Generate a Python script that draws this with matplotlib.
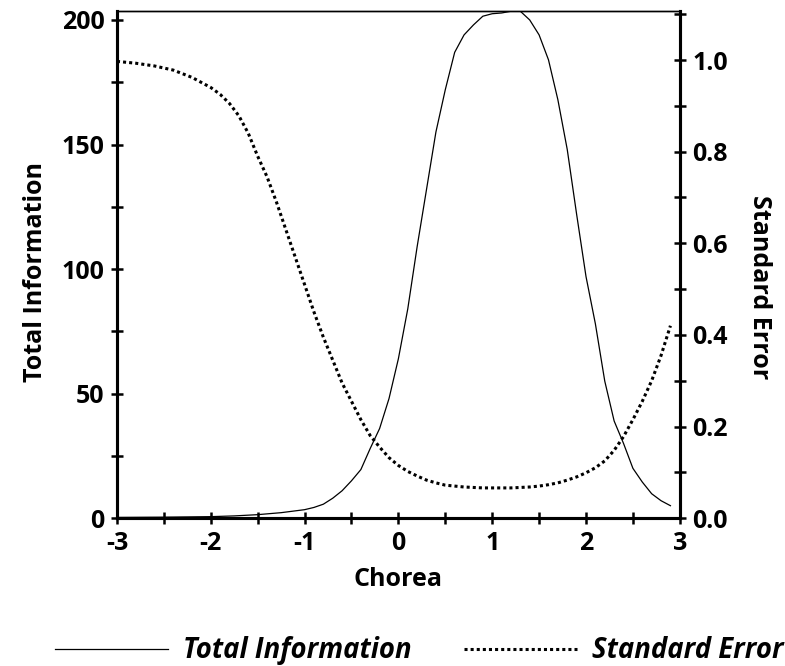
import matplotlib.pyplot as plt
from matplotlib.ticker import MultipleLocator

plt.rcParams['font.family'] = ['Open Sans', 'DejaVu Sans']
plt.rcParams['axes.unicode_minus'] = False

# theta grid for total information
info_x = [-3.0, -2.75, -2.5, -2.25, -2.0, -1.75, -1.5, -1.25, -1.0, -0.9, -0.8,
          -0.7, -0.6, -0.5, -0.4, -0.3, -0.2, -0.1, 0.0, 0.1, 0.2, 0.3, 0.4,
          0.5, 0.6, 0.7, 0.8, 0.9, 1.0, 1.1, 1.2, 1.3, 1.4, 1.5, 1.6, 1.7,
          1.8, 1.9, 2.0, 2.1, 2.2, 2.3, 2.4, 2.5, 2.6, 2.7, 2.8, 2.9]
info_y = [0.3, 0.35, 0.4, 0.5, 0.6, 0.9, 1.4, 2.2, 3.4, 4.3, 5.6,
          8.0, 11.0, 15.0, 19.5, 28.0, 36.0, 48.0, 64.0, 84.0, 109.0, 132.0, 155.0,
          172.0, 187.0, 194.0, 198.0, 201.5, 202.5, 202.8, 203.5, 203.5, 200.0, 194.0, 184.0, 168.0,
          148.0, 122.0, 97.0, 78.0, 55.0, 39.0, 30.0, 20.0, 14.5, 9.8, 7.0, 5.0]

# standard error
se_x = [-3.0, -2.8, -2.6, -2.4, -2.2, -2.0, -1.9, -1.8, -1.7, -1.6, -1.5, -1.4,
        -1.3, -1.2, -1.1, -1.0, -0.9, -0.8, -0.7, -0.6, -0.5, -0.4, -0.3, -0.2,
        -0.1, 0.0, 0.1, 0.2, 0.3, 0.4, 0.5, 0.6, 0.7, 0.8, 0.9, 1.0, 1.1, 1.2,
        1.3, 1.4, 1.5, 1.6, 1.7, 1.8, 1.9, 2.0, 2.1, 2.2, 2.3, 2.4, 2.5, 2.6,
        2.7, 2.8, 2.9]
se_y = [0.997, 0.993, 0.987, 0.978, 0.962, 0.94, 0.925, 0.905, 0.878, 0.84, 0.79, 0.745,
        0.69, 0.63, 0.57, 0.51, 0.45, 0.395, 0.345, 0.295, 0.255, 0.215, 0.18, 0.155,
        0.132, 0.115, 0.102, 0.092, 0.083, 0.077, 0.072, 0.07, 0.068, 0.067, 0.066, 0.066, 0.066, 0.066,
        0.067, 0.068, 0.07, 0.073, 0.077, 0.083, 0.09, 0.099, 0.11, 0.125, 0.148, 0.178, 0.215, 0.255,
        0.3, 0.355, 0.42]

fig = plt.figure(figsize=(7.85, 6.66), dpi=100)
ax = fig.add_axes([0.149, 0.222, 0.717, 0.7615])
ax2 = ax.twinx()

l1, = ax.plot(info_x, info_y, color='black', lw=0.9, label='Total Information')
l2, = ax2.plot(se_x, se_y, color='black', lw=2.2, linestyle=(0, (1, 1)),
               label='Standard Error')

ax.set_xlim(-3, 3)
ax.set_ylim(0, 203.6)
ax2.set_ylim(0, 1.107)

ax.xaxis.set_major_locator(MultipleLocator(1))
ax.xaxis.set_minor_locator(MultipleLocator(0.5))
ax.yaxis.set_major_locator(MultipleLocator(50))
ax.yaxis.set_minor_locator(MultipleLocator(25))
ax2.yaxis.set_major_locator(MultipleLocator(0.2))
ax2.yaxis.set_minor_locator(MultipleLocator(0.1))
ax2.yaxis.set_major_formatter(lambda v, p: f'{v:.1f}')

FS = 18
for a in (ax, ax2):
    for s in ('left', 'right', 'bottom'):
        a.spines[s].set_linewidth(2.2)
    a.spines['top'].set_linewidth(1.0)
    a.tick_params(which='both', direction='inout', length=8, width=1.8,
                  labelsize=FS)
    a.tick_params(which='major', pad=5)
    for lab in a.get_xticklabels() + a.get_yticklabels():
        lab.set_fontweight('bold')

ax.set_xlabel('Chorea', fontsize=FS, fontweight='bold', labelpad=8)
ax.set_ylabel('Total Information', fontsize=FS, fontweight='bold')
ax.yaxis.set_label_coords(-0.123, 0.485)
ax2.set_ylabel('Standard Error', fontsize=FS, fontweight='bold',
               rotation=270, va='center')
ax2.yaxis.set_label_coords(1.142, 0.456)

fig.legend(handles=[l1, l2], loc='lower center', bbox_to_anchor=(0.534, -0.036),
           ncol=2, frameon=False, handlelength=4.1, handletextpad=0.55,
           columnspacing=1.9,
           prop={'size': 19.8, 'weight': 'bold', 'style': 'italic'})

fig.savefig('out.png', dpi=100)
